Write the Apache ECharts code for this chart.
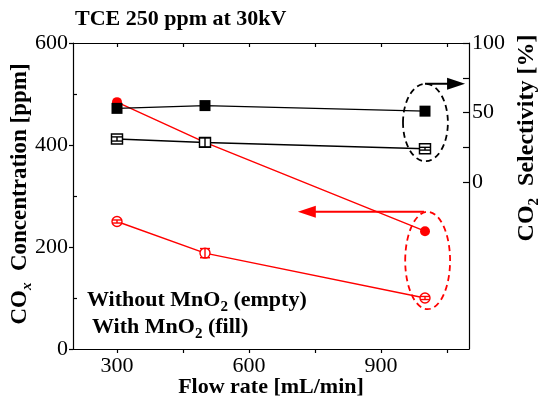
<!DOCTYPE html>
<html><head><meta charset="utf-8">
<script src="https://cdn.jsdelivr.net/npm/echarts@6/dist/echarts.min.js"></script>
<style>html,body{margin:0;padding:0;background:#fff}#c{width:539px;height:401px}</style>
</head><body><div id="c"></div>
<script>
// ---- data ----
const flowRates = [300, 500, 1000];
const coxWith = [484, 405, 231];          // red filled circles (left axis, ppm)
const coxWithout = [250, 188, 100];       // red open circles (left axis, ppm)
const coxWithoutErr = [3, 9, 3];
const selWith = [53, 55, 51];             // black filled squares (right axis, %)
const selWithout = [31, 28.5, 24];        // black open squares (right axis, %)
const selWithoutErr = [1.5, 3.2, 1];
const xTickValues = [300, 450, 600, 750, 900, 1050];
const xLabelValues = [300, 600, 900];
const leftMajor = [0, 200, 400, 600];
const leftMinor = [100, 300, 500];
const rightTickValues = [0, 25, 50, 75, 100];
const rightLabelValues = [0, 50, 100];

const FONT = '"Liberation Serif", "Times New Roman", serif';
const RED = '#ff0000';

const chart = echarts.init(document.getElementById('c'), null, {renderer: 'canvas'});

function pairs(xs, ys) { return xs.map((x, i) => [x, ys[i]]); }
function triples(xs, ys, es) { return xs.map((x, i) => [x, ys[i], es[i]]); }

function errRender(color) {
  return function (params, api) {
    const x = api.value(0), y = api.value(1), e = api.value(2);
    const t = api.coord([x, y + e]), b = api.coord([x, y - e]);
    const w = 5;
    const st = {stroke: color, lineWidth: 1.4};
    return {type: 'group', children: [
      {type: 'line', shape: {x1: t[0], y1: t[1], x2: b[0], y2: b[1]}, style: st},
      {type: 'line', shape: {x1: t[0] - w, y1: t[1], x2: t[0] + w, y2: t[1]}, style: st},
      {type: 'line', shape: {x1: b[0] - w, y1: b[1], x2: b[0] + w, y2: b[1]}, style: st}
    ]};
  };
}

const axisLineBlack = {show: true, onZero: false, lineStyle: {color: '#000', width: 1.2}};
const labelStyle = {fontFamily: FONT, fontSize: 22, color: '#000'};

const option = {
  animation: false,
  backgroundColor: '#fff',
  grid: {left: 73, right: 70, top: 43, bottom: 52, containLabel: false},
  xAxis: [
    {type: 'value', position: 'bottom', min: 200, max: 1100,
     axisLine: axisLineBlack,
     axisTick: {show: true, inside: false, length: 4, customValues: xTickValues, lineStyle: {color: '#000', width: 1.2}},
     axisLabel: {show: true, customValues: xLabelValues, margin: 6, ...labelStyle},
     splitLine: {show: false}},
    {type: 'value', position: 'top', min: 200, max: 1100,
     axisLine: axisLineBlack,
     axisTick: {show: true, inside: true, length: 4, customValues: xTickValues, lineStyle: {color: '#000', width: 1.2}},
     axisLabel: {show: false},
     splitLine: {show: false}}
  ],
  yAxis: [
    {type: 'value', position: 'left', min: 0, max: 600,
     axisLine: axisLineBlack,
     axisTick: {show: true, inside: false, length: 4, customValues: leftMajor, lineStyle: {color: '#000', width: 1.2}},
     axisLabel: {show: true, customValues: leftMajor, margin: 5, ...labelStyle},
     splitLine: {show: false}},
    {type: 'value', position: 'right', min: -120, max: 100,
     axisLine: axisLineBlack,
     axisTick: {show: true, inside: true, length: 6, customValues: rightTickValues, lineStyle: {color: '#000', width: 1.2}},
     axisLabel: {show: true, customValues: rightLabelValues, margin: 3, ...labelStyle},
     splitLine: {show: false}},
    {type: 'value', position: 'left', min: 0, max: 600,
     axisLine: {show: false, onZero: false},
     axisTick: {show: true, inside: true, length: 4, customValues: leftMinor, lineStyle: {color: '#000', width: 1.2}},
     axisLabel: {show: false},
     splitLine: {show: false}}
  ],
  series: [
    {name: 'CO with', type: 'line', xAxisIndex: 0, yAxisIndex: 0, data: pairs(flowRates, coxWith),
     symbol: 'circle', symbolSize: 10, z: 2,
     itemStyle: {color: RED}, lineStyle: {color: RED, width: 1.4}},
    {name: 'CO without', type: 'line', xAxisIndex: 0, yAxisIndex: 0, data: pairs(flowRates, coxWithout),
     symbol: 'circle', symbolSize: 10, showAllSymbol: true, z: 2,
     itemStyle: {color: '#fff', borderColor: RED, borderWidth: 1.4}, lineStyle: {color: RED, width: 1.4}},
    {name: 'CO without err', type: 'custom', xAxisIndex: 0, yAxisIndex: 0, z: 5,
     data: triples(flowRates, coxWithout, coxWithoutErr), renderItem: errRender(RED)},
    {name: 'Sel with', type: 'line', xAxisIndex: 0, yAxisIndex: 1, data: pairs(flowRates, selWith),
     symbol: 'rect', symbolSize: 11, z: 3,
     itemStyle: {color: '#000'}, lineStyle: {color: '#000', width: 1.4}},
    {name: 'Sel without', type: 'line', xAxisIndex: 0, yAxisIndex: 1, data: pairs(flowRates, selWithout),
     symbol: 'rect', symbolSize: [11, 10], z: 3,
     itemStyle: {color: '#fff', borderColor: '#000', borderWidth: 1.4}, lineStyle: {color: '#000', width: 1.4}},
    {name: 'Sel without err', type: 'custom', xAxisIndex: 0, yAxisIndex: 1, z: 6,
     data: triples(flowRates, selWithout, selWithoutErr), renderItem: errRender('#000')}
  ]
};
chart.setOption(option);

// ---- annotations in data units ----
const blackEllipse = {x: [950, 1052], y: [70.7, 15]};   // right axis
const redEllipse = {x: [955, 1057], y: [269, 78]};      // left axis
const blackArrow = {from: [1000, 70.7], to: [1091, 70.7]}; // right axis
const redArrow = {from: [998, 269], to: [711, 269]};       // left axis

const px = v => chart.convertToPixel({xAxisIndex: 0}, v);
const pyL = v => chart.convertToPixel({yAxisIndex: 0}, v);
const pyR = v => chart.convertToPixel({yAxisIndex: 1}, v);

function ellipseEl(e, py, color) {
  const x1 = px(e.x[0]), x2 = px(e.x[1]), y1 = py(e.y[0]), y2 = py(e.y[1]);
  return {type: 'ellipse', shape: {cx: (x1 + x2) / 2, cy: (y1 + y2) / 2, rx: Math.abs(x2 - x1) / 2, ry: Math.abs(y2 - y1) / 2},
    style: {fill: null, stroke: color, lineWidth: 1.8, lineDash: [6, 4]}, z: 10};
}
function arrowEls(a, py, color) {
  const sx = px(a.from[0]), sy = py(a.from[1]), ex = px(a.to[0]), ey = py(a.to[1]);
  const dir = ex > sx ? 1 : -1;
  const hl = 18, hw = 6;
  return [
    {type: 'line', shape: {x1: sx, y1: sy, x2: ex - dir * hl * 0.8, y2: ey}, style: {stroke: color, lineWidth: 2}, z: 10},
    {type: 'polygon', shape: {points: [[ex, ey], [ex - dir * hl, ey - hw], [ex - dir * hl, ey + hw]]}, style: {fill: color}, z: 10}
  ];
}

function txt(x, y, text, rich) {
  return {type: 'text', x: x, y: y, z: 20,
    style: {text: text, rich: rich, fill: '#000', align: 'left', verticalAlign: 'middle', font: 'bold 22px ' + FONT}};
}

const richLegend = {
  a: {fontFamily: FONT, fontWeight: 'bold', fontSize: 22, color: '#000'},
  s: {fontFamily: FONT, fontWeight: 'bold', fontSize: 15, color: '#000', padding: [14, 0, 0, 0]}
};
const richAxis = {
  a: {fontFamily: FONT, fontWeight: 'bold', fontSize: 23, color: '#000'},
  s: {fontFamily: FONT, fontWeight: 'bold', fontSize: 15, color: '#000', padding: [14, 0, 0, 0]},
  si: {fontFamily: FONT, fontWeight: 'bold', fontStyle: 'italic', fontSize: 15, color: '#000', padding: [14, 0, 0, 0]}
};
const richAxisR = {
  a: {fontFamily: FONT, fontWeight: 'bold', fontSize: 24, color: '#000'},
  s: {fontFamily: FONT, fontWeight: 'bold', fontSize: 15, color: '#000', padding: [14, 0, 0, 0]}
};

chart.setOption({graphic: [
  ellipseEl(blackEllipse, pyR, '#000'),
  ellipseEl(redEllipse, pyL, RED),
  ...arrowEls(blackArrow, pyR, '#000'),
  ...arrowEls(redArrow, pyL, RED),
  txt(75, 19, '{a|TCE 250 ppm at 30kV}', richLegend),
  txt(87, 300, '{a|Without MnO}{s|2}{a| (empty)}', richLegend),
  txt(92, 327, '{a|With MnO}{s|2}{a| (fill)}', richLegend),
  {type: 'text', x: 271, y: 387, z: 20, style: {text: 'Flow rate [mL/min]', fill: '#000', align: 'center', verticalAlign: 'middle', font: 'bold 22px ' + FONT}},
  {type: 'text', x: 20, y: 194, rotation: Math.PI / 2, z: 20,
   style: {text: '{a|CO}{si|x}{a|  Concentration [ppm]}', rich: richAxis, fill: '#000', align: 'center', verticalAlign: 'middle'}},
  {type: 'text', x: 527, y: 138, rotation: Math.PI / 2, z: 20,
   style: {text: '{a|CO}{s|2}{a|  Selectivity [%]}', rich: richAxisR, fill: '#000', align: 'center', verticalAlign: 'middle'}}
]});
</script>
</body></html>
